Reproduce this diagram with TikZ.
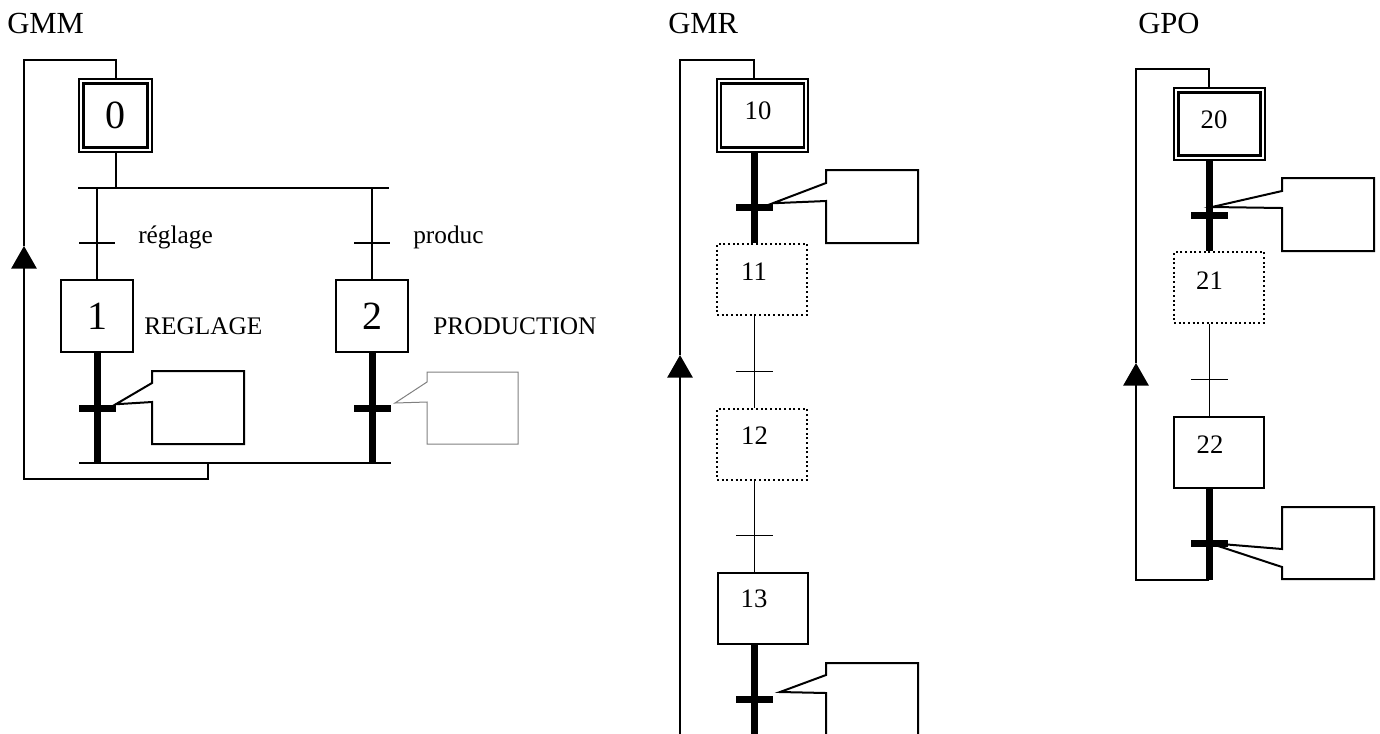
\documentclass[tikz,border=0pt]{standalone}
\usepackage{fontspec}
\setmainfont{Liberation Serif}
\usetikzlibrary{arrows.meta, positioning}

\begin{document}
\begin{tikzpicture}[
		x=0.75pt, y=-0.75pt,
		title/.style={font=\fontsize{23}{27}\selectfont, anchor=base west, inner sep=0pt},
		lbl/.style={font=\fontsize{19}{23}\selectfont, anchor=base west, inner sep=0pt},
		num/.style={font=\fontsize{20}{24}\selectfont, inner sep=0pt},
		stepbox/.style={draw, line width=1.5pt, fill=white, inner sep=0pt, minimum width=67.5pt, minimum height=53.25pt},
		dotstep/.style={stepbox, dotted},
		bigstep/.style={stepbox, minimum width=54pt, minimum height=54pt, font=\fontsize{30}{36}\selectfont},
		initstep/.style={draw, double, line width=1.7pt, double distance=1.6pt, outer sep=2.5pt, fill=white, inner sep=0pt},
		trans/.style={fill=black, inner sep=0pt, minimum width=27.75pt, minimum height=5.25pt},
		gtrans/.style={fill=black, inner sep=0pt, minimum width=27pt, minimum height=1.5pt},
		ttrans/.style={fill=black, inner sep=0pt, minimum width=27.75pt, minimum height=0.75pt},
		orbar/.style={fill=black, inner sep=0pt, minimum height=1.5pt},
		link/.style={line width=1.5pt},
		tlink/.style={line width=0.75pt},
		act/.style={line width=5.25pt},
		back/.style={line width=1.5pt, -{Triangle[length=17pt, width=19pt]}},
		note/.style={line width=1.5pt},
		thinnote/.style={line width=0.75pt, black!50}
		]
		
		\useasboundingbox (0,0) rectangle (1380,733);
		\clip (0,0) rectangle (1380,733);
		
		% GMM
		\node[title] (hMM) at (7,33) {GMM};
		\node[initstep, minimum width=51.25pt, minimum height=51.25pt, font=\fontsize{30}{36}\selectfont] (s0) at (115.5,115.5) {0};
		\node[orbar, minimum width=233.25pt] (dv) at (233.5,188) {};
		\node[gtrans] (r1) at (97,243) {};
		\node[gtrans] (r2) at (372,243) {};
		\node[lbl] (lr1) at (138,243) {réglage};
		\node[lbl] (lr2) at (413,243) {produc};
		\node[bigstep] (s1) at (97,316) {1};
		\node[bigstep] (s2) at (372,316) {2};
		\node[lbl] (a1) at (144,334) {REGLAGE};
		\node[lbl] (a2) at (433,334) {PRODUCTION};
		\node[trans] (t1) at (97,408) {};
		\node[trans] (t2) at (372,408) {};
		\node[orbar, minimum width=234pt] (cv) at (235,463) {};
		
		\draw[link] (s0.south) -- (s0.south |- dv.north);
		\draw[link] (dv.south -| r1) -- (s1.north);
		\draw[link] (dv.south -| r2) -- (s2.north);
		\draw[act] (s1.south) -- (s1.south |- cv.center);
		\draw[act] (s2.south) -- (s2.south |- cv.center);
		
		\coordinate (lp0) at (208,463);
		\coordinate (ar0) at (24,246);
		\coordinate (tp0) at (24,60);
		\draw[back] (lp0) -- ++(0,16) -| (ar0);
		\draw[link] (ar0) -- (tp0) -| (s0.north);
		
		\draw[note] (152,371) -- (152,383) -- (t1.north east) -- (152,402) -- (152,444) -- (244,444) -- (244,371) -- cycle;
		\draw[thinnote] (427,372) -- (427,382) -- (395,403) -- (427,402) -- (427,444) -- (518,444) -- (518,372) -- cycle;
		
		% GMR
		\node[title] (hMR) at (668,33) {GMR};
		\node[initstep, minimum width=65.25pt, minimum height=51.4pt] (s10) at (762.5,115.5) {};
		\node[num] (n10) at (758,111) {10};
		\node[trans] (t10) at (754,207) {};
		\node[dotstep] (s11) at (762,279.5) {};
		\node[num] (n11) at (754,272) {11};
		\node[ttrans] (t11) at (754,371) {};
		\node[dotstep] (s12) at (762,444.5) {};
		\node[num] (n12) at (754.5,436) {12};
		\node[ttrans] (t12) at (754,535) {};
		\node[stepbox] (s13) at (762.5,608) {};
		\node[num] (n13) at (754,599) {13};
		\node[trans] (t13) at (754,699) {};
		\coordinate (e13) at (754,745);
		
		\draw[act] (s10.south -| t10) -- (s11.north -| t10);
		\draw[tlink] (s11.south -| t11) -- (s12.north -| t11);
		\draw[tlink] (s12.south -| t12) -- (s13.north -| t12);
		\draw[act] (s13.south -| t13) -- (e13);
		
		\coordinate (b10) at (680,745);
		\coordinate (ar10) at (680,355);
		\coordinate (tp10) at (680,60);
		\draw[back] (b10) -- (ar10);
		\draw[link] (ar10) -- (tp10) -| (s10.north -| t10);
		
		\draw[note] (826,170) -- (826,183) -- (t10.north east) -- (826,201) -- (826,243) -- (918,243) -- (918,170) -- cycle;
		\draw[note] (826,663) -- (826,675) -- (780,692) -- (826,693) -- (826,745) -- (918,745) -- (918,663) -- cycle;
		
		% GPO
		\node[title] (hPO) at (1138,33) {GPO};
		\node[initstep, minimum width=64.9pt, minimum height=50.6pt] (s20) at (1219.5,124) {};
		\node[num] (n20) at (1214,120) {20};
		\node[trans] (t20) at (1209,215) {};
		\node[dotstep] (s21) at (1219,287.5) {};
		\node[num] (n21) at (1209.5,281) {21};
		\node[ttrans] (t21) at (1209,379) {};
		\node[stepbox] (s22) at (1219,452.5) {};
		\node[num] (n22) at (1210,445) {22};
		\node[trans] (t22) at (1209,543) {};
		\coordinate (e22) at (1209,580);
		
		\draw[act] (s20.south -| t20) -- (s21.north -| t20);
		\draw[tlink] (s21.south -| t21) -- (s22.north -| t21);
		\draw[act] (s22.south -| t22) -- (e22);
		
		\coordinate (ar20) at (1136,363);
		\coordinate (tp20) at (1136,69);
		\draw[back] (e22) -| (ar20);
		\draw[link] (ar20) -- (tp20) -| (s20.north -| t20);
		
		\draw[note] (1282,178) -- (1282,191) -- (1212,207) -- (1282,208) -- (1282,251) -- (1374,251) -- (1374,178) -- cycle;
		\draw[note] (1282,507) -- (1282,549) -- (t22.center) -- (1282,567) -- (1282,579) -- (1374,579) -- (1374,507) -- cycle;
		
	\end{tikzpicture}
\end{document}
